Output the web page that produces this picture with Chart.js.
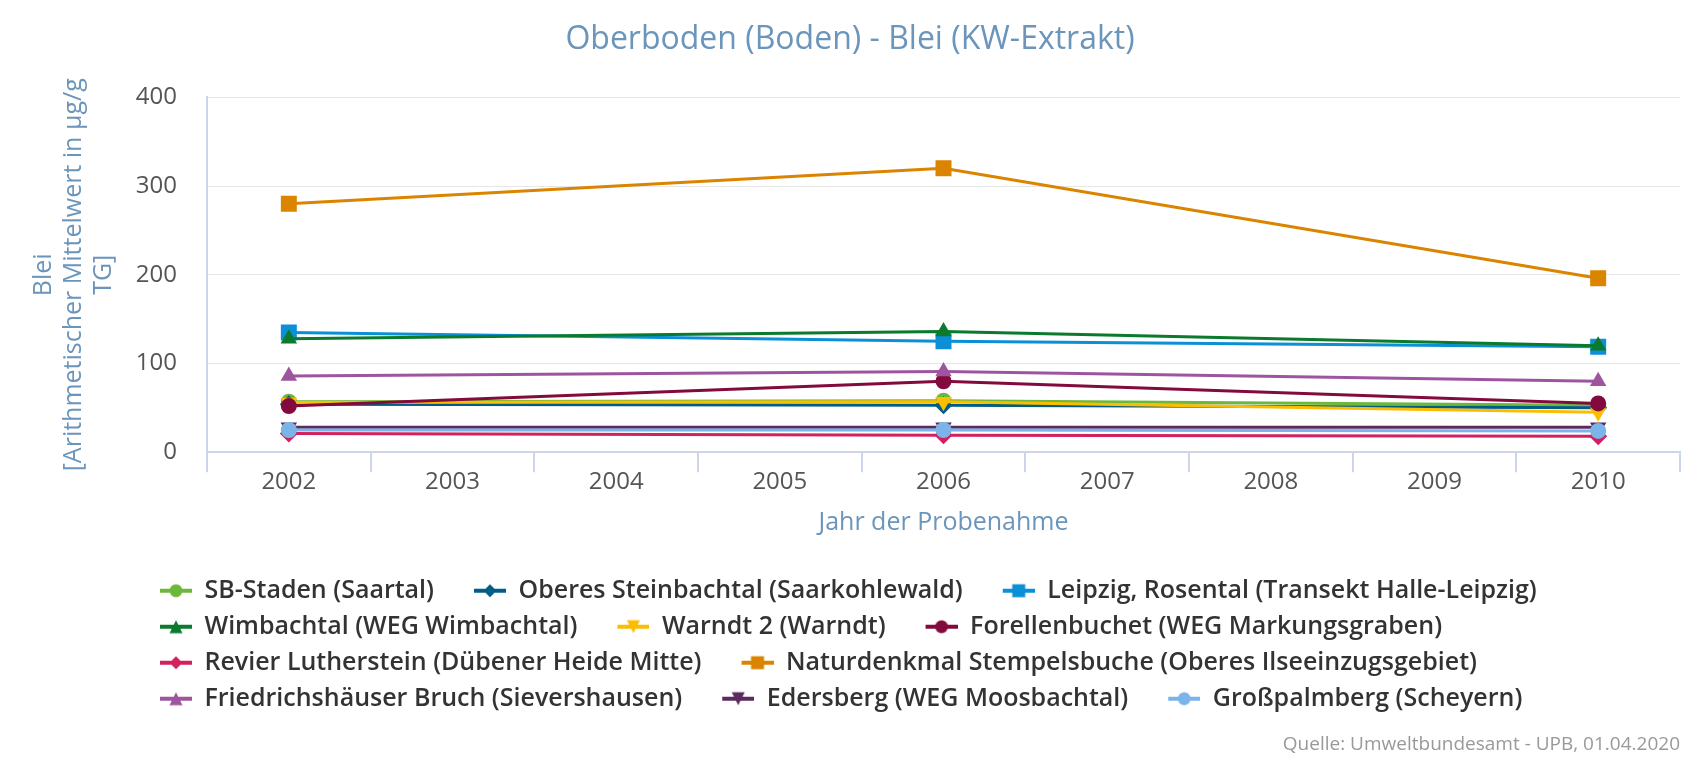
<!DOCTYPE html>
<html lang="de">
<head>
<meta charset="utf-8">
<title>Oberboden (Boden) - Blei (KW-Extrakt)</title>
<script src="https://cdn.jsdelivr.net/npm/chart.js@4.4.1/dist/chart.umd.min.js"></script>
<style>
    html, body { margin: 0; padding: 0; background: #ffffff; }
    #chart { display: block; }
</style>
</head>
<body>
<canvas id="chart" width="1700" height="760"></canvas>
<script>
// Jahre der Probenahme (Kategorien)
const years = ['2002', '2003', '2004', '2005', '2006', '2007', '2008', '2009', '2010'];

// Blei in µg/g TG, gemessen nur 2002, 2006 und 2010
const sbStaden          = [57, null, null, null, 58, null, null, null, 53];
const oberesSteinbach   = [54, null, null, null, 53, null, null, null, 50];
const leipzigRosental   = [135, null, null, null, 125, null, null, null, 119];
const wimbachtal        = [128, null, null, null, 136, null, null, null, 120];
const warndt2           = [56, null, null, null, 57, null, null, null, 45];
const forellenbuchet    = [52, null, null, null, 80, null, null, null, 55];
const revierLutherstein = [21, null, null, null, 19, null, null, null, 18];
const stempelsbuche     = [280, null, null, null, 320, null, null, null, 196];
const friedrichshausen  = [86, null, null, null, 91, null, null, null, 80];
const edersberg         = [28, null, null, null, 28, null, null, null, 28];
const grosspalmberg     = [25, null, null, null, 25, null, null, null, 24];

const seriesNames = [
    'SB-Staden (Saartal)',
    'Oberes Steinbachtal (Saarkohlewald)',
    'Leipzig, Rosental (Transekt Halle-Leipzig)',
    'Wimbachtal (WEG Wimbachtal)',
    'Warndt 2 (Warndt)',
    'Forellenbuchet (WEG Markungsgraben)',
    'Revier Lutherstein (Dübener Heide Mitte)',
    'Naturdenkmal Stempelsbuche (Oberes Ilseeinzugsgebiet)',
    'Friedrichshäuser Bruch (Sievershausen)',
    'Edersberg (WEG Moosbachtal)',
    'Großpalmberg (Scheyern)'
];
const seriesValues = [
    sbStaden, oberesSteinbach, leipzigRosental, wimbachtal, warndt2, forellenbuchet,
    revierLutherstein, stempelsbuche, friedrichshausen, edersberg, grosspalmberg
];

const yTicks = [0, 100, 200, 300, 400];

const chartTitle = 'Oberboden (Boden) - Blei (KW-Extrakt)';
const xTitle = 'Jahr der Probenahme';
const yTitle = ['Blei', '[Arithmetischer Mittelwert in µg/g', 'TG]'];
const sourceText = 'Quelle: Umweltbundesamt - UPB, 01.04.2020';

// Darstellung
const seriesColors = [
    '#6cb83a', '#015c86', '#0b90d8', '#0b7a2d', '#fbbd00', '#830a3c',
    '#d3205f', '#db8400', '#9e559f', '#5b2a5e', '#7ab4e9'
];
const seriesMarkers = [
    'circle', 'diamond', 'square', 'triangle', 'triangle-down', 'circle',
    'diamond', 'square', 'triangle', 'triangle-down', 'circle'
];

const blueText = '#6b95ba';
const axisLine = '#ccd6eb';

const legendLeft = 120;
const legendWidth = 1470;

Chart.defaults.font.family = "'Open Sans', 'DejaVu Sans', sans-serif";

function drawMarker(ctx, marker, x, y, r) {
    ctx.beginPath();
    switch (marker) {
        case 'circle':
            ctx.arc(x, y, r, 0, Math.PI * 2);
            break;
        case 'square':
            ctx.rect(x - r, y - r, 2 * r, 2 * r);
            break;
        case 'diamond':
            ctx.moveTo(x, y - r);
            ctx.lineTo(x + r, y);
            ctx.lineTo(x, y + r);
            ctx.lineTo(x - r, y);
            break;
        case 'triangle':
            ctx.moveTo(x, y - r);
            ctx.lineTo(x + r, y + r);
            ctx.lineTo(x - r, y + r);
            break;
        case 'triangle-down':
            ctx.moveTo(x - r, y - r);
            ctx.lineTo(x + r, y - r);
            ctx.lineTo(x, y + r);
            break;
    }
    ctx.closePath();
    ctx.fill();
}

// kleines Legendensymbol: Linie mit Marker (links transparenter Abstand)
function legendIcon(color, marker) {
    const c = document.createElement('canvas');
    c.width = 61;
    c.height = 24;
    const ctx = c.getContext('2d');
    ctx.strokeStyle = color;
    ctx.fillStyle = color;
    ctx.lineWidth = 4;
    ctx.beginPath();
    ctx.moveTo(29, 12);
    ctx.lineTo(61, 12);
    ctx.stroke();
    drawMarker(ctx, marker, 45, 12, 6.5);
    return c;
}

const legendIcons = seriesColors.map((color, i) => legendIcon(color, seriesMarkers[i]));

function pointStyleOf(marker) {
    if (marker === 'square') return 'rect';
    if (marker === 'diamond') return 'rectRot';
    if (marker === 'triangle' || marker === 'triangle-down') return 'triangle';
    return 'circle';
}

function pointRadiusOf(marker) {
    if (marker === 'square') return 11.3;
    if (marker === 'diamond') return 9;
    if (marker === 'circle') return 8;
    return 9.5;
}

const datasets = seriesNames.map((name, i) => ({
    label: name,
    data: seriesValues[i],
    borderColor: seriesColors[i],
    backgroundColor: seriesColors[i],
    borderWidth: 3,
    pointStyle: pointStyleOf(seriesMarkers[i]),
    pointRotation: seriesMarkers[i] === 'triangle-down' ? 180 : 0,
    pointRadius: pointRadiusOf(seriesMarkers[i]),
    pointHoverRadius: pointRadiusOf(seriesMarkers[i]),
    pointBorderWidth: 0,
    spanGaps: true,
    tension: 0,
    order: seriesNames.length - i
}));

// Legende schmaler umbrechen und links ausrichten
const legendLayout = {
    id: 'legendLayout',
    afterInit(chart) {
        const legend = chart.legend;
        const update = legend.update;
        legend.update = function (maxWidth, maxHeight, margins) {
            update.call(this, Math.min(maxWidth, legendWidth), maxHeight, margins);
        };
        const draw = legend.draw;
        legend.draw = function () {
            const left = this.left;
            const right = this.right;
            this.left = legendLeft;
            this.right = legendLeft + legendWidth;
            draw.call(this);
            this.left = left;
            this.right = right;
        };
    }
};

new Chart(document.getElementById('chart'), {
    type: 'line',
    data: {
        labels: years,
        datasets: datasets
    },
    options: {
        responsive: false,
        devicePixelRatio: 1,
        animation: false,
        layout: {
            padding: { left: 20, right: 20, top: 0, bottom: 0 }
        },
        plugins: {
            title: {
                display: true,
                text: chartTitle,
                color: blueText,
                font: { size: 32, weight: 'normal' },
                padding: { top: 21, bottom: 38 }
            },
            subtitle: {
                display: true,
                text: sourceText,
                position: 'bottom',
                align: 'end',
                color: '#999999',
                font: { size: 19, weight: 'normal' },
                padding: { top: 12, bottom: 4 }
            },
            legend: {
                position: 'bottom',
                align: 'start',
                labels: {
                    usePointStyle: true,
                    pointStyleWidth: 61,
                    padding: 11,
                    color: '#333333',
                    font: { size: 25, weight: 600 },
                    sort: (a, b) => a.datasetIndex - b.datasetIndex,
                    generateLabels: function (chart) {
                        const items = Chart.defaults.plugins.legend.labels.generateLabels(chart);
                        items.forEach(item => {
                            item.pointStyle = legendIcons[item.datasetIndex];
                            item.rotation = 0;
                        });
                        return items;
                    }
                }
            },
            tooltip: { enabled: false }
        },
        scales: {
            x: {
                offset: true,
                grid: {
                    display: true,
                    offset: true,
                    drawOnChartArea: false,
                    drawTicks: true,
                    tickLength: 20,
                    color: axisLine,
                    lineWidth: 2
                },
                border: { display: true, color: axisLine, width: 2 },
                ticks: {
                    color: '#555555',
                    font: { size: 24, lineHeight: 1 },
                    padding: -2.5,
                    maxRotation: 0,
                    autoSkip: false
                },
                title: {
                    display: true,
                    text: xTitle,
                    color: blueText,
                    font: { size: 25, lineHeight: 1.2 },
                    padding: { top: 17, bottom: 29 }
                }
            },
            y: {
                min: yTicks[0],
                max: yTicks[yTicks.length - 1],
                afterBuildTicks: (scale) => {
                    scale.ticks = yTicks.map(v => ({ value: v }));
                },
                afterFit: (scale) => {
                    scale.width = 187;
                },
                grid: {
                    drawTicks: false,
                    lineWidth: 1,
                    color: (c) => c.tick && c.tick.value === 0 ? 'rgba(0,0,0,0)' : '#e6e6e6'
                },
                border: { display: true, color: axisLine, width: 2 },
                ticks: {
                    color: '#555555',
                    font: { size: 24 },
                    padding: 30
                },
                title: {
                    display: true,
                    text: yTitle,
                    color: blueText,
                    font: { size: 25, lineHeight: 1.2 },
                    padding: { top: 9, bottom: 10 }
                }
            }
        }
    },
    plugins: [legendLayout]
});
</script>
</body>
</html>
